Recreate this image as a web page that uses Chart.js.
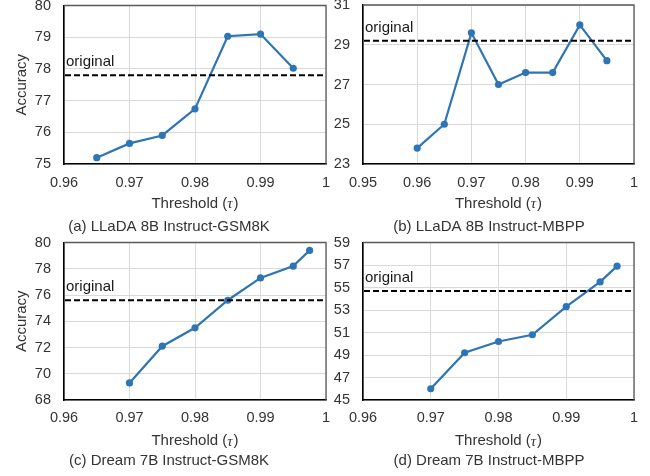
<!DOCTYPE html>
<html><head><meta charset="utf-8">
<script src="https://cdn.jsdelivr.net/npm/chart.js@4"></script>
<style>
html,body{margin:0;padding:0;background:#fff;}
#wrap{position:relative;width:650px;height:476px;overflow:hidden;}
canvas{position:absolute;}
</style></head><body>
<div id="wrap">
<canvas id="cA" width="330" height="238" style="left:0px;top:0px"></canvas>
<canvas id="cB" width="320" height="238" style="left:330px;top:0px"></canvas>
<canvas id="cC" width="330" height="258" style="left:0px;top:218px"></canvas>
<canvas id="cD" width="320" height="258" style="left:330px;top:218px"></canvas>
</div>
<script>
// ---------- data ----------
const thresholdsA = [0.965, 0.97, 0.975, 0.98, 0.985, 0.99, 0.995];
const accuracyA   = [75.2, 75.65, 75.9, 76.74, 79.03, 79.1, 78.02];
const originalA   = 77.8;
const xTicksA     = [0.96, 0.97, 0.98, 0.99, 1];
const yTicksA     = [75, 76, 77, 78, 79, 80];
const captionA    = '(a) LLaDA 8B Instruct-GSM8K';

const thresholdsB = [0.96, 0.965, 0.97, 0.975, 0.98, 0.985, 0.99, 0.995];
const accuracyB   = [23.8, 25.0, 29.6, 27.0, 27.6, 27.6, 30.0, 28.2];
const originalB   = 29.2;
const xTicksB     = [0.95, 0.96, 0.97, 0.98, 0.99, 1];
const yTicksB     = [23, 25, 27, 29, 31];
const captionB    = '(b) LLaDA 8B Instruct-MBPP';

const thresholdsC = [0.97, 0.975, 0.98, 0.985, 0.99, 0.995, 0.9975];
const accuracyC   = [69.3, 72.1, 73.5, 75.6, 77.3, 78.2, 79.4];
const originalC   = 75.6;
const xTicksC     = [0.96, 0.97, 0.98, 0.99, 1];
const yTicksC     = [68, 70, 72, 74, 76, 78, 80];
const captionC    = '(c) Dream 7B Instruct-GSM8K';

const thresholdsD = [0.97, 0.975, 0.98, 0.985, 0.99, 0.995, 0.9975];
const accuracyD   = [46.0, 49.2, 50.2, 50.8, 53.3, 55.5, 56.9];
const originalD   = 54.7;
const xTicksD     = [0.96, 0.97, 0.98, 0.99, 1];
const yTicksD     = [45, 47, 49, 51, 53, 55, 57, 59];
const captionD    = '(d) Dream 7B Instruct-MBPP';

const xTitleText = 'Threshold (';
const xTitleSym  = 'τ';
const xTitleEnd  = ')';
const yTitleText = 'Accuracy';
const origLabel  = 'original';

// ---------- styling ----------
const FONT = "'Liberation Sans', Arial, sans-serif";
const TXT = '#333333';
const LINE_COLOR = '#2E75B6';

const framePlugin = {
  id: 'frame',
  afterDatasetsDraw(chart, args, o) {
    const ctx = chart.ctx, a = chart.chartArea;
    const ys = chart.scales.y;
    const yy = ys.getPixelForValue(o.original);
    ctx.save();
    ctx.strokeStyle = '#000';
    ctx.lineWidth = 2;
    ctx.setLineDash([6, 3]);
    ctx.beginPath(); ctx.moveTo(a.left + 1, yy); ctx.lineTo(a.right, yy); ctx.stroke();
    ctx.setLineDash([]);
    ctx.fillStyle = '#1a1a1a';
    ctx.font = '15px ' + FONT;
    ctx.textAlign = 'left'; ctx.textBaseline = 'middle';
    ctx.fillText(origLabel, a.left + 2, yy - 13);
    ctx.restore();
  },
  afterDraw(chart, args, o) {
    const ctx = chart.ctx, a = chart.chartArea;
    ctx.save();
    ctx.strokeStyle = '#595959'; ctx.lineWidth = 1.3;
    ctx.beginPath();
    ctx.moveTo(a.left, a.top); ctx.lineTo(a.right, a.top); ctx.lineTo(a.right, a.bottom);
    ctx.stroke();
    ctx.fillStyle = TXT;
    ctx.textBaseline = 'middle';
    const cx = (a.left + a.right) / 2, cy = a.bottom + o.xTitleGap;
    ctx.font = '15px ' + FONT;
    const w1 = ctx.measureText(xTitleText).width, w3 = ctx.measureText(xTitleEnd).width;
    ctx.font = "italic 15px 'Liberation Serif', 'DejaVu Serif', serif";
    const w2 = ctx.measureText(xTitleSym).width + 1;
    let x = cx - (w1 + w2 + w3) / 2;
    ctx.textAlign = 'left';
    ctx.font = '15px ' + FONT; ctx.fillText(xTitleText, x, cy); x += w1;
    ctx.font = "italic 15px 'Liberation Serif', 'DejaVu Serif', serif"; ctx.fillText(xTitleSym, x, cy + 1); x += w2;
    ctx.font = '15px ' + FONT; ctx.fillText(xTitleEnd, x, cy);
    ctx.textAlign = 'center';
    ctx.fillText(o.caption, o.captionX, a.bottom + o.captionGap);
    if (o.yTitle) {
      ctx.translate(22, (a.top + a.bottom) / 2);
      ctx.rotate(-Math.PI / 2);
      ctx.fillText(yTitleText, 0, 0);
    }
    ctx.restore();
  }
};

function noPad(s) { s.paddingTop = 0; s.paddingBottom = 0; s.paddingLeft = 0; s.paddingRight = 0; }

function makePanel(id, xs, ys, orig, xTicks, yTicks, caption, lay) {
  const pts = xs.map((x, i) => ({x: x, y: ys[i]}));
  return new Chart(document.getElementById(id), {
    type: 'line',
    data: { datasets: [{
      data: pts,
      borderColor: LINE_COLOR, backgroundColor: LINE_COLOR,
      borderWidth: 2.2, pointRadius: 3.6, pointHoverRadius: 3.6,
      pointBorderWidth: 0, tension: 0
    }]},
    options: {
      responsive: false, animation: false, devicePixelRatio: 1,
      layout: { padding: { top: lay.top, right: lay.right, left: 0, bottom: 0 } },
      plugins: {
        legend: { display: false }, tooltip: { enabled: false },
        frame: { original: orig, caption: caption, captionX: lay.captionX,
                 captionGap: lay.captionGap, xTitleGap: lay.xTitleGap, yTitle: lay.yTitle }
      },
      scales: {
        x: {
          type: 'linear', min: xTicks[0], max: xTicks[xTicks.length - 1],
          afterBuildTicks: s => { s.ticks = xTicks.map(v => ({value: v})); },
          afterFit: s => { s.height = lay.xAxisH; noPad(s); },
          ticks: { color: TXT, font: { family: FONT, size: 14.5 }, padding: lay.xPad,
                   maxRotation: 0, autoSkip: false, callback: v => String(+(+v).toFixed(3)) },
          grid: { color: '#d9d9d9', lineWidth: 1, drawTicks: false },
          border: { color: '#000', width: 1.6 }
        },
        y: {
          min: yTicks[0], max: yTicks[yTicks.length - 1],
          afterBuildTicks: s => { s.ticks = yTicks.map(v => ({value: v})); },
          afterFit: s => { s.width = lay.yAxisW; noPad(s); },
          ticks: { color: TXT, font: { family: FONT, size: 14.5 }, padding: 13, autoSkip: false },
          grid: { color: '#d9d9d9', lineWidth: 1, drawTicks: false },
          border: { color: '#000', width: 1.6 }
        }
      }
    },
    plugins: [framePlugin]
  });
}

makePanel('cA', thresholdsA, accuracyA, originalA, xTicksA, yTicksA, captionA,
  { top: 5.5, right: 4, yAxisW: 64, xAxisH: 74, xPad: 10, captionX: 169, captionGap: 62.5, xTitleGap: 39.5, yTitle: true });
makePanel('cB', thresholdsB, accuracyB, originalB, xTicksB, yTicksB, captionB,
  { top: 5, right: 16, yAxisW: 33, xAxisH: 74, xPad: 10, captionX: 159, captionGap: 62.5, xTitleGap: 39.5, yTitle: false });
makePanel('cC', thresholdsC, accuracyC, originalC, xTicksC, yTicksC, captionC,
  { top: 24.5, right: 4, yAxisW: 64, xAxisH: 76, xPad: 9, captionX: 169, captionGap: 61, xTitleGap: 41, yTitle: true });
makePanel('cD', thresholdsD, accuracyD, originalD, xTicksD, yTicksD, captionD,
  { top: 24.5, right: 16, yAxisW: 33, xAxisH: 76, xPad: 9, captionX: 159, captionGap: 61, xTitleGap: 41, yTitle: false });
</script>
</body></html>
